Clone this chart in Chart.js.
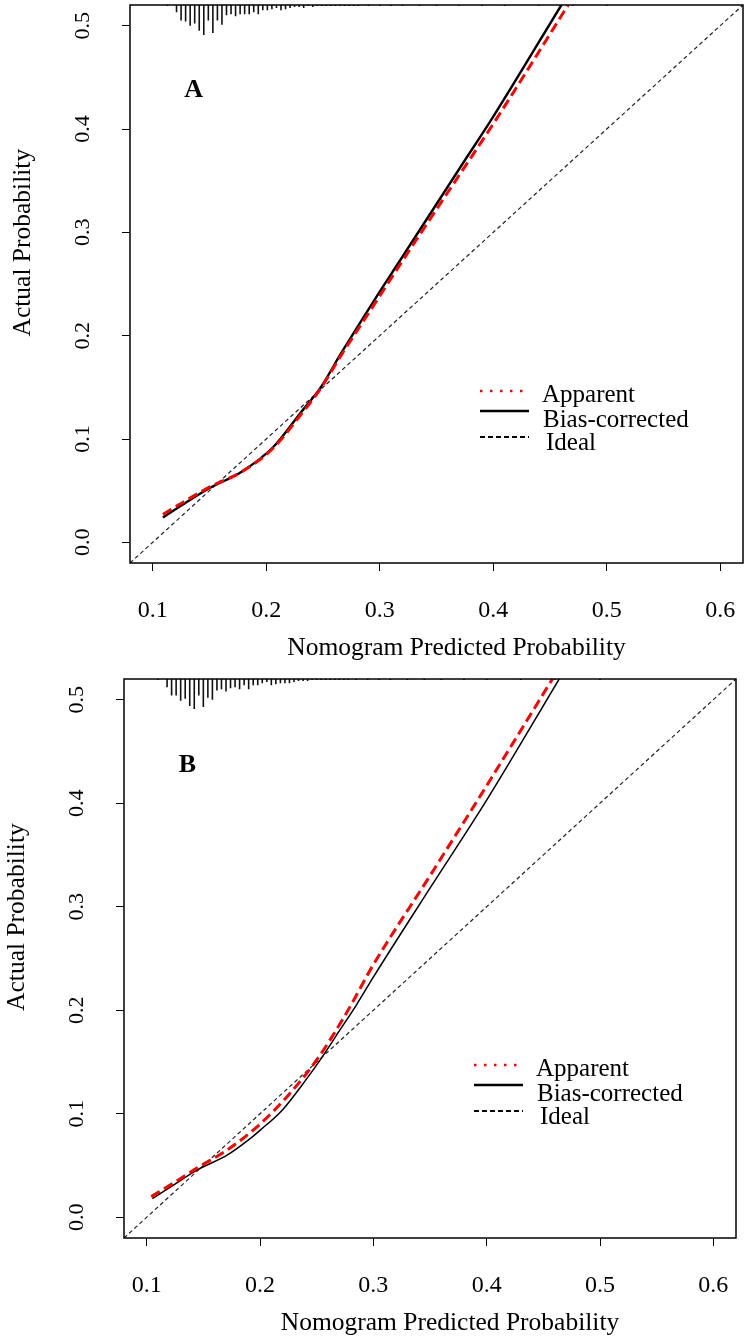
<!DOCTYPE html>
<html>
<head>
<meta charset="utf-8">
<script src="https://cdn.jsdelivr.net/npm/chart.js@4.4.1/dist/chart.umd.min.js"></script>
<style>
  html, body { margin: 0; padding: 0; background: #fff; }
  body { width: 746px; height: 1339px; position: relative; overflow: hidden; }
  .panel { position: absolute; left: 0; width: 746px; }
  #wrapA { top: 0; height: 670px; }
  #wrapB { top: 670px; height: 669px; }
</style>
</head>
<body>
<div class="panel" id="wrapA"><canvas id="chartA"></canvas></div>
<div class="panel" id="wrapB"><canvas id="chartB"></canvas></div>
<script>
// axes
const xTicks = [0.1, 0.2, 0.3, 0.4, 0.5, 0.6];
const yTicks = [0.0, 0.1, 0.2, 0.3, 0.4, 0.5];
const xRange = [0.08, 0.62];
const yRange = [-0.02, 0.52];

// ideal line (corner to corner as drawn)
const idealX = [0.08, 0.62];
const idealY = [-0.02, 0.52];

// panel A
const apparentAX = [0.109, 0.130, 0.151, 0.178, 0.206, 0.230, 0.248, 0.266, 0.295, 0.318, 0.371, 0.400, 0.466];
const apparentAY = [0.027, 0.041, 0.054, 0.068, 0.091, 0.123, 0.149, 0.181, 0.230, 0.269, 0.357, 0.405, 0.520];
const biasAX = [0.109, 0.130, 0.151, 0.178, 0.206, 0.230, 0.248, 0.266, 0.295, 0.318, 0.371, 0.400, 0.460];
const biasAY = [0.024, 0.039, 0.053, 0.068, 0.092, 0.125, 0.150, 0.183, 0.234, 0.273, 0.363, 0.412, 0.520];
const rugAX = [0.113, 0.121, 0.125, 0.129, 0.133, 0.137, 0.141, 0.145, 0.149, 0.153, 0.157, 0.161, 0.165, 0.169,
  0.173, 0.177, 0.181, 0.185, 0.189, 0.193, 0.197, 0.201, 0.205, 0.209, 0.213, 0.217, 0.221, 0.225, 0.229,
  0.233, 0.237, 0.241, 0.245, 0.249, 0.253, 0.257, 0.261, 0.265, 0.269, 0.273, 0.277, 0.281,
  0.290, 0.300, 0.310, 0.320, 0.335, 0.350, 0.370, 0.390, 0.410, 0.440, 0.470, 0.500];
const rugAH = [1, 7, 15, 16, 20, 18, 25, 29, 15, 27, 15, 19, 10, 9,
  11, 9, 9, 9, 7, 9, 5, 5, 4, 3, 5, 4, 3, 2, 2,
  3, 1, 2, 1, 1, 1, 1, 1, 1, 1, 1, 1, 1,
  1, 1, 1, 1, 1, 1, 1, 1, 1, 1, 1, 1];

// panel B
const apparentBX = [0.104, 0.125, 0.145, 0.171, 0.200, 0.225, 0.250, 0.275, 0.300, 0.350, 0.400, 0.458];
const apparentBY = [0.020, 0.034, 0.048, 0.065, 0.090, 0.118, 0.152, 0.195, 0.244, 0.330, 0.417, 0.520];
const biasBX = [0.105, 0.125, 0.145, 0.171, 0.189, 0.200, 0.220, 0.240, 0.255, 0.270, 0.285, 0.300, 0.350, 0.400, 0.464];
const biasBY = [0.018, 0.032, 0.046, 0.060, 0.074, 0.084, 0.104, 0.132, 0.155, 0.180, 0.205, 0.232, 0.318, 0.403, 0.520];
const rugBX = [0.110, 0.118, 0.122, 0.126, 0.130, 0.134, 0.138, 0.142, 0.146, 0.150, 0.154, 0.158, 0.162, 0.166,
  0.170, 0.174, 0.178, 0.182, 0.186, 0.190, 0.194, 0.198, 0.202, 0.206, 0.210, 0.214, 0.218, 0.222, 0.226,
  0.230, 0.234, 0.238, 0.242, 0.246, 0.250, 0.254, 0.258, 0.262, 0.266, 0.270, 0.274, 0.278,
  0.285, 0.295, 0.305, 0.315, 0.330, 0.345, 0.360, 0.380, 0.400, 0.430, 0.460, 0.500];
const rugBH = [1, 8, 16, 16, 21, 19, 26, 29, 16, 27, 18, 20, 11, 10,
  12, 9, 8, 10, 6, 10, 6, 6, 4, 3, 6, 5, 4, 4, 4,
  3, 2, 2, 2, 1, 1, 1, 1, 1, 1, 1, 1, 1,
  1, 1, 1, 1, 1, 1, 1, 1, 1, 1, 1, 1];

const legendLabels = ['Apparent', 'Bias-corrected', 'Ideal'];
const xTitle = 'Nomogram Predicted Probability';
const yTitle = 'Actual Probability';

const serif = "'Liberation Serif', 'Times New Roman', serif";
Chart.defaults.font.family = serif;
Chart.defaults.color = '#000';

function pairs(xs, ys) {
  return xs.map((x, i) => ({ x: x, y: ys[i] }));
}

// rug marks hang down from the top border, gaps between them
function rugPoints(xs, hs) {
  const top = yRange[1];
  const pts = [];
  xs.forEach((x, i) => {
    pts.push({ x: x, y: top });
    pts.push({ x: x, y: top - hs[i] * 0.001 });
    pts.push({ x: x, y: null });
  });
  return pts;
}

const panelDecor = {
  id: 'panelDecor',
  afterDraw(chart, args, opts) {
    const ctx = chart.ctx;
    const a = chart.chartArea;
    const x = chart.scales.x;
    const y = chart.scales.y;
    ctx.save();

    // box
    ctx.strokeStyle = '#000';
    ctx.lineWidth = 1.5;
    ctx.setLineDash([]);
    ctx.strokeRect(a.left, a.top, a.right - a.left, a.bottom - a.top);

    ctx.fillStyle = '#000';
    ctx.textAlign = 'center';
    ctx.textBaseline = 'middle';

    // y tick labels, rotated like R
    ctx.font = '22px ' + serif;
    yTicks.forEach(v => {
      ctx.save();
      ctx.translate(a.left - 47, y.getPixelForValue(v));
      ctx.rotate(-Math.PI / 2);
      ctx.fillText(v.toFixed(1), 0, 0);
      ctx.restore();
    });

    // axis titles
    ctx.font = '25.5px ' + serif;
    ctx.save();
    ctx.translate(a.left - 107, y.getPixelForValue(0.29));
    ctx.rotate(-Math.PI / 2);
    ctx.fillText(yTitle, 0, 0);
    ctx.restore();
    ctx.fillText(xTitle, (a.left + a.right) / 2 + 20, a.bottom + 85);

    // panel letter
    ctx.font = 'bold 26px ' + serif;
    ctx.fillText(opts.letter, x.getPixelForValue(0.136), y.getPixelForValue(0.437));

    // legend
    const lx0 = a.left + 350, lx1 = a.left + 395;
    ctx.lineCap = 'butt';
    ctx.strokeStyle = '#ff0000';
    ctx.lineWidth = 2.5;
    ctx.setLineDash([2.5, 7.5]);
    ctx.beginPath(); ctx.moveTo(lx0, a.top + 386); ctx.lineTo(lx1, a.top + 386); ctx.stroke();
    ctx.strokeStyle = '#000';
    ctx.lineWidth = 2.5;
    ctx.setLineDash([]);
    ctx.beginPath(); ctx.moveTo(lx0, a.top + 406); ctx.lineTo(lx1 + 4, a.top + 406); ctx.stroke();
    ctx.lineWidth = 2;
    ctx.setLineDash([5, 3]);
    ctx.beginPath(); ctx.moveTo(lx0, a.top + 432); ctx.lineTo(lx1 + 4, a.top + 432); ctx.stroke();
    ctx.setLineDash([]);

    ctx.font = '25px ' + serif;
    ctx.textAlign = 'left';
    ctx.fillText(legendLabels[0], a.left + 412, a.top + 390);
    ctx.fillText(legendLabels[1], a.left + 413, a.top + 415);
    ctx.fillText(legendLabels[2], a.left + 416, a.top + 438);

    ctx.restore();
  }
};

function makePanel(id, p) {
  const ctx = document.getElementById(id).getContext('2d');
  return new Chart(ctx, {
    type: 'line',
    data: {
      datasets: [
        {
          label: legendLabels[0],
          data: pairs(p.appX, p.appY),
          borderColor: '#ff0000',
          borderWidth: 3,
          borderDash: [10, 5],
          cubicInterpolationMode: 'monotone',
          pointRadius: 0,
          fill: false
        },
        {
          label: legendLabels[1],
          data: pairs(p.biasX, p.biasY),
          borderColor: '#000',
          borderWidth: p.biasWidth,
          cubicInterpolationMode: 'monotone',
          pointRadius: 0,
          fill: false
        },
        {
          label: legendLabels[2],
          data: pairs(idealX, idealY),
          borderColor: '#222',
          borderWidth: 1.2,
          borderDash: [4, 3],
          tension: 0,
          pointRadius: 0,
          fill: false
        },
        {
          label: 'rug',
          data: rugPoints(p.rugX, p.rugH),
          borderColor: '#111',
          borderWidth: 1.6,
          tension: 0,
          spanGaps: false,
          pointRadius: 0,
          fill: false
        }
      ]
    },
    options: {
      responsive: true,
      maintainAspectRatio: false,
      animation: false,
      layout: { padding: { top: p.padTop, right: p.padRight, left: 0, bottom: 0 } },
      plugins: {
        legend: { display: false },
        tooltip: { enabled: false },
        panelDecor: { letter: p.letter }
      },
      scales: {
        x: {
          type: 'linear',
          min: xRange[0],
          max: xRange[1],
          afterBuildTicks: s => { s.ticks = xTicks.map(v => ({ value: v })); },
          afterFit: s => {
            s.height = p.xHeight;
            s.paddingLeft = 0;
            s.paddingRight = 0;
          },
          border: { display: false },
          grid: { drawOnChartArea: false, drawTicks: true, tickLength: 8, color: '#000', lineWidth: 1 },
          ticks: {
            font: { size: 24, family: serif },
            color: '#000',
            padding: 25,
            maxRotation: 0,
            callback: v => v.toFixed(1)
          }
        },
        y: {
          type: 'linear',
          min: yRange[0],
          max: yRange[1],
          afterBuildTicks: s => { s.ticks = yTicks.map(v => ({ value: v })); },
          afterFit: s => {
            s.width = p.yWidth;
            s.paddingTop = 0;
            s.paddingBottom = 0;
          },
          border: { display: false },
          grid: { drawOnChartArea: false, drawTicks: true, tickLength: 8, color: '#000', lineWidth: 1 },
          ticks: { display: false }
        }
      }
    },
    plugins: [panelDecor]
  });
}

makePanel('chartA', {
  letter: 'A',
  appX: apparentAX, appY: apparentAY,
  biasX: biasAX, biasY: biasAY,
  rugX: rugAX, rugH: rugAH,
  biasWidth: 2.4,
  padTop: 5, padRight: 3, yWidth: 130, xHeight: 107
});

makePanel('chartB', {
  letter: 'B',
  appX: apparentBX, appY: apparentBY,
  biasX: biasBX, biasY: biasBY,
  rugX: rugBX, rugH: rugBH,
  biasWidth: 1.5,
  padTop: 9, padRight: 10, yWidth: 124, xHeight: 101
});
</script>
</body>
</html>
